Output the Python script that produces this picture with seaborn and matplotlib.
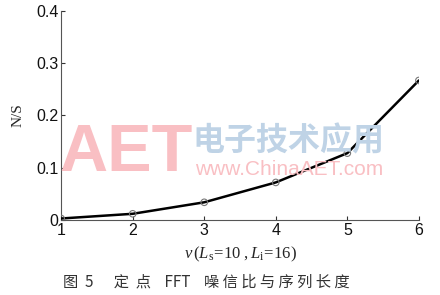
import matplotlib
matplotlib.use("Agg")
import matplotlib.pyplot as plt
import seaborn as sns
import pandas as pd

v_values = [1, 2, 3, 4, 5, 6]
ns_values = [0.003, 0.012, 0.034, 0.072, 0.128, 0.267]
x_ticks = [1, 2, 3, 4, 5, 6]
y_ticks = [0, 0.1, 0.2, 0.3, 0.4]
y_tick_labels = ["0", "0.1", "0.2", "0.3", "0.4"]

sns.set_theme(style="white")
plt.rcParams['font.family'] = ['Liberation Sans', 'Noto Sans CJK SC', 'DejaVu Sans']
plt.rcParams['mathtext.fontset'] = 'custom'
plt.rcParams['mathtext.rm'] = 'Liberation Serif'
plt.rcParams['mathtext.it'] = 'Liberation Serif:italic'

df = pd.DataFrame({"v": v_values, "ns": ns_values})

fig = plt.figure(figsize=(4.4, 2.95), dpi=100)
ax = fig.add_axes([0.139, 0.254, 0.813, 0.709])

# watermark
fig.text(0.135, 0.372, "AET", fontsize=48, color="#f9bfc3", fontweight="bold",
         ha="left", va="bottom", zorder=0, family=["Liberation Sans"])
fig.text(0.437, 0.468, "电子技术应用", fontsize=23, color="#bfd3e6", ha="left",
         va="bottom", zorder=0, family=["Noto Sans CJK SC"], fontweight="bold")
fig.text(0.443, 0.393, "www.ChinaAET.com", fontsize=15, color="#f9bfc3",
         ha="left", va="bottom", zorder=0, family=["Liberation Sans"])
ax.set_facecolor("none")

sns.lineplot(data=df, x="v", y="ns", ax=ax, color="black", linewidth=1.8, zorder=3)
sns.scatterplot(data=df, x="v", y="ns", ax=ax, marker="o", s=22,
                facecolor="none", edgecolor="#777777", linewidth=0.8, zorder=4)

ax.set_xlim(1, 6)
ax.set_ylim(0, 0.4)
ax.set_xticks(x_ticks)
ax.set_yticks(y_ticks)
ax.set_yticklabels(y_tick_labels)
ax.tick_params(axis="both", direction="in", length=3, width=0.8, colors="#333333",
               labelsize=11.5, labelcolor="#111111", pad=2, bottom=True, left=True)
for s in ["top", "right"]:
    ax.spines[s].set_visible(False)
for s in ["left", "bottom"]:
    ax.spines[s].set_color("#555555")
    ax.spines[s].set_linewidth(0.8)

ax.set_xlabel(r"$v\,(L_{\mathrm{s}}\!=\!10\ ,L_{\mathrm{i}}\!=\!16)$", fontsize=12, labelpad=5)
ax.set_ylabel("N/S", fontsize=11, family=["Liberation Serif"], labelpad=8)

fig.text(0.47, 0.045, "图  5      定  点    FFT    噪 信 比 与 序 列 长 度", ha="center", va="center",
         fontsize=11, color="#333333", family=["Noto Sans CJK SC", "DejaVu Sans"])

fig.savefig("out.png", dpi=100)
